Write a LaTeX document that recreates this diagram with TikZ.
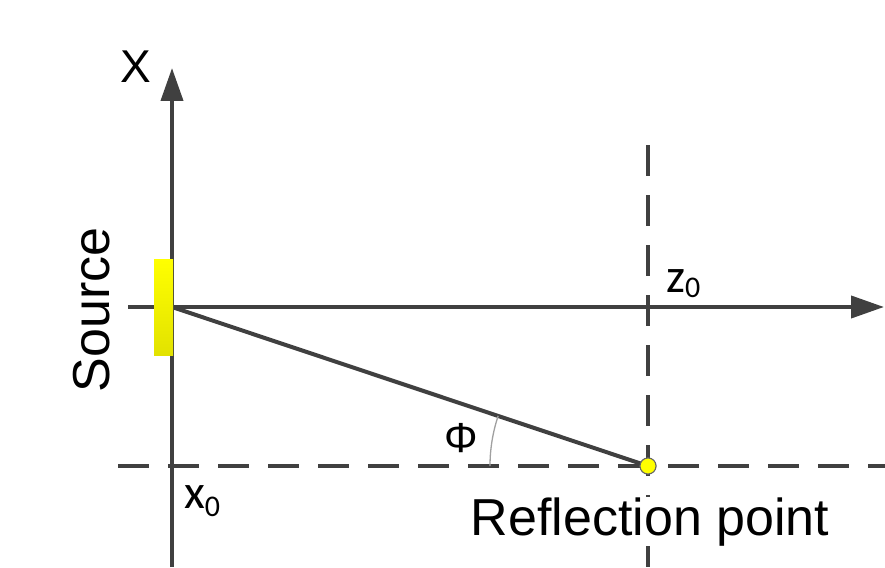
\documentclass[tikz,border=0pt]{standalone}
\usepackage{fontspec}
\setmainfont{Liberation Sans}
\newfontfamily\calfont{Carlito}
\usepackage{xcolor}
\definecolor{axisgray}{HTML}{404040}
\definecolor{arcgray}{HTML}{A0A0A0}
\definecolor{srcyellow}{HTML}{FFFF00}
\definecolor{srcdark}{HTML}{E2E200}
\usetikzlibrary{arrows.meta}

\begin{document}
\begin{tikzpicture}[
  x=1pt,y=-1pt,
  every node/.style={inner sep=0pt},
  axis/.style={draw=axisgray,line width=4pt,-{Triangle[length=33pt,width=22pt]}},
  ray/.style={draw=axisgray,line width=4pt},
  guide/.style={draw=axisgray,line width=4pt,dash pattern=on 31pt off 19pt},
  lbl/.style={font=\fontsize{52}{60}\selectfont},
  sublbl/.style={font=\calfont\fontsize{48}{56}\selectfont},
  rpoint/.style={circle,draw=axisgray!80,line width=1pt,fill=srcyellow,minimum size=16pt}
]
\useasboundingbox (0,0) rectangle (885,567);
% guides through the reflection point
\coordinate (gl) at (118,466);
\coordinate (gr) at (885,466);
\coordinate (gt) at (648,145);
\coordinate (gb) at (648,567);
\draw[guide] (gl) -- (gr);
\draw[guide] (gt) -- (gb);
% axes
\coordinate (O) at (172,307);
\coordinate (xb) at (172,567);
\coordinate (xt) at (172,68);
\coordinate (zl) at (128,307);
\coordinate (zr) at (884,307);
\draw[axis] (xb) -- (xt);
\draw[axis] (zl) -- (zr);
\node[rpoint] (R) at (648,466) {};
\draw[ray] (O) -- (R.center);
\node[rpoint] at (R) {};
% source
\shade[top color=srcyellow,bottom color=srcdark] (154,259) rectangle (173,355);
% angle
\draw[arcgray,line width=1.3pt] (490,466) arc[start angle=180,end angle=198.5,radius=158];
% labels
\node[lbl,font=\fontsize{46}{52}\selectfont,anchor=base] (xlbl) at (136,83) {X};
\node[lbl,rotate=90,anchor=base] (src) at (109,310) {Source};
\node[lbl,font=\fontsize{42}{48}\selectfont,anchor=base] (phi) at (461,452) {Φ};
\node[lbl,anchor=base,fill=white] (rlbl) at (650,535) {Reflection point};
\node[sublbl,anchor=base west] (x0) at (184,508) {x\raisebox{-8pt}{\fontsize{30}{30}\selectfont 0}};
\node[sublbl,anchor=base west] (z0) at (666,292) {z\raisebox{-5pt}{\fontsize{30}{30}\selectfont 0}};
\end{tikzpicture}
\end{document}
